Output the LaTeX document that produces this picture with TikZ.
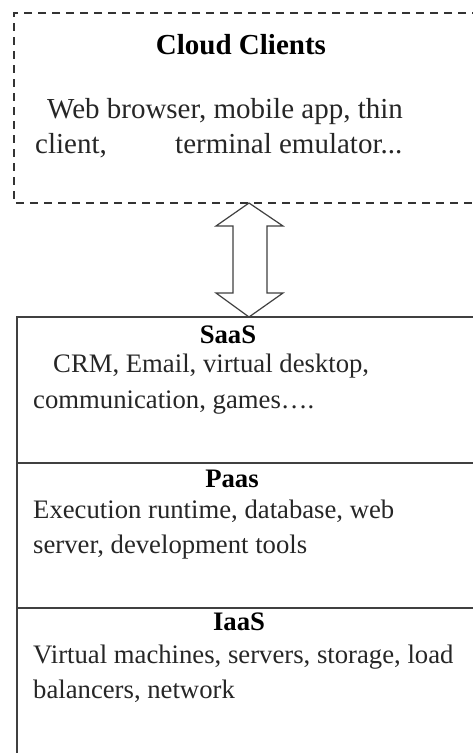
\documentclass[tikz,border=0pt]{standalone}
\usepackage{fontspec}
\setmainfont{Liberation Serif}
\begin{document}
\begin{tikzpicture}[x=1pt,y=-1pt,
  txt/.style={anchor=base west,inner sep=0pt,font=\fontsize{26.7}{32}\selectfont,text=black!85},
  toptxt/.style={anchor=base west,inner sep=0pt,font=\fontsize{29}{35}\selectfont,text=black!85},
  ttl/.style={anchor=base,inner sep=0pt,font=\bfseries\fontsize{26.7}{32}\selectfont},
  dashbox/.style={draw=black!80,line width=1.3pt,dash pattern=on 8pt off 6pt},
  layer/.style={draw=black!75,line width=1.5pt},
  dblarrow/.style={draw=black!75,line width=1.2pt,fill=white,line join=miter}]
\useasboundingbox (0,0) rectangle (473,753);
\clip (0,0) rectangle (473,753);
% cloud clients box
\draw[dashbox] (480,13) -- (14,13) -- (14,203) -- (480,203);
\coordinate (cctop) at (249,203);
\node[anchor=base,inner sep=0pt,font=\bfseries\fontsize{29}{35}\selectfont] (cc) at (241,54) {Cloud Clients};
\node[toptxt] (cc1) at (47,118) {Web browser, mobile app, thin};
\node[toptxt] (cc2a) at (35,153) {client,};
\node[toptxt] (cc2b) at (175,153) {terminal emulator...};
% layers
\draw[layer] (480,317) -- (17,317) -- (17,760);
\draw[layer] (17,463) -- (480,463);
\draw[layer] (17,608) -- (480,608);
\coordinate (saastop) at (249,317);
% double arrow
\draw[dblarrow] (cctop) -- (283,226) -- (267,226) -- (267,293) -- (283,293) -- (saastop)
  -- (216,293) -- (233,293) -- (233,226) -- (216,226) -- cycle;
% SaaS
\node[ttl] (saas) at (228,343) {SaaS};
\node[txt] (s1) at (53,372) {CRM, Email, virtual desktop,};
\node[txt] (s2) at (33,408) {communication, games….};
% PaaS
\node[ttl] (paas) at (232,487) {Paas};
\node[txt] (p1) at (33,518) {Execution runtime, database, web};
\node[txt] (p2) at (33,553) {server, development tools};
% IaaS
\node[ttl] (iaas) at (239,630) {IaaS};
\node[txt] (i1) at (33,663) {Virtual machines, servers, storage, load};
\node[txt] (i2) at (33,698) {balancers, network};
\end{tikzpicture}
\end{document}
